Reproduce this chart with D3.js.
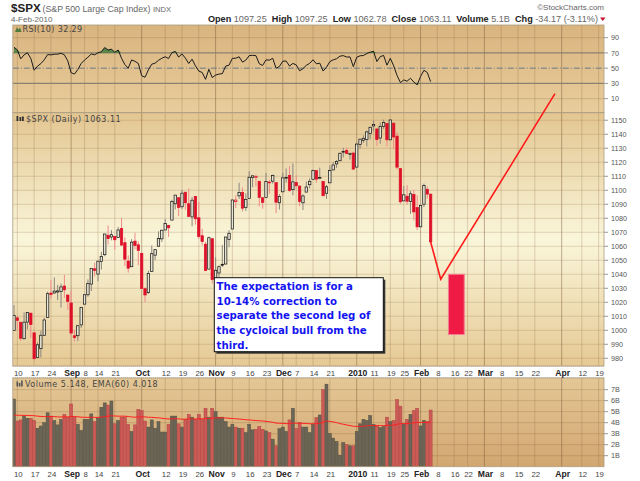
<!DOCTYPE html>
<html><head><meta charset="utf-8">
<script src="https://cdn.jsdelivr.net/npm/d3@7"></script>
<style>body{margin:0;background:#fff}svg{display:block}</style>
</head><body><svg id="c" width="640" height="481"></svg>
<script>
// ---------------- DATA ----------------
const holidays = ["2009-09-07","2009-11-26","2009-12-25","2010-01-01","2010-01-18","2010-02-15","2010-04-02"];
const prevClose = 1002.72;
const opens = [999.83,1008.89,1005.77,994.00,1005.86,1012.23,
998.18,980.62,986.88,996.41,1009.06,
1026.59,1026.63,1027.35,1027.81,1031.62,
1025.21,1019.52,996.07,996.12,1003.84,
1018.67,1025.36,1032.99,1043.92,
1040.15,1049.03,1053.99,1067.87,1066.60,
1067.14,1066.35,1072.69,1062.56,1049.48,
1045.38,1063.69,1061.02,1054.91,1029.71,
1026.87,1042.02,1053.65,1060.03,1065.28,
1071.63,1074.96,1078.68,1090.36,1094.67,
1088.22,1098.64,1090.36,1080.96,1095.62,
1080.36,1067.54,1061.51,1043.69,1065.41,
1036.18,1040.92,1047.14,1047.30,1064.95,
1072.31,1091.86,1096.04,1098.31,1087.59,
1094.13,1109.22,1109.44,1106.44,1094.66,
1094.86,1105.83,1106.49,1105.47,
1091.07,1098.89,1109.03,1110.59,1100.43,
1105.52,1103.04,1091.07,1098.69,1103.96,
1107.84,1114.11,1108.61,1106.36,1097.86,
1105.31,1114.51,1118.84,1121.08,
1127.53,1128.55,1125.53,1126.60,
1116.56,1132.66,1135.71,1136.27,1140.52,
1145.96,1143.81,1137.31,1145.68,1147.72,
1136.03,1147.95,1138.68,1115.49,
1092.40,1095.80,1091.94,1096.93,1087.61,
1073.89,1090.05,1100.67,1097.25];
const highs = [1018.00,1010.12,1005.77,1012.78,1013.14,1012.60,
998.18,991.20,999.61,1008.92,1027.59,
1035.82,1037.75,1032.47,1033.33,1039.47,
1025.21,1028.45,1000.34,1003.43,1016.48,
1026.07,1036.34,1044.14,1048.18,
1049.74,1056.04,1068.76,1074.77,1071.52,
1067.28,1073.81,1080.15,1066.29,1053.47,
1065.13,1069.62,1063.40,1054.91,1030.60,
1042.58,1060.55,1058.02,1070.67,1071.51,
1079.46,1075.30,1093.17,1096.56,1094.67,
1100.17,1098.64,1101.36,1095.21,1095.83,
1091.75,1072.48,1063.26,1066.83,1065.41,
1052.18,1046.36,1061.00,1066.65,1071.48,
1093.19,1096.42,1105.37,1101.97,1097.79,
1113.69,1110.52,1111.10,1106.44,1094.66,
1112.38,1107.56,1111.18,1105.47,
1097.24,1112.28,1115.58,1117.28,1119.13,
1110.72,1103.04,1097.04,1106.25,1108.50,
1114.76,1114.11,1116.21,1106.36,1103.74,
1117.68,1120.27,1121.58,1126.48,
1130.38,1130.38,1126.42,1127.64,
1133.87,1136.63,1139.19,1142.46,1145.39,
1149.74,1143.81,1148.40,1150.41,1147.77,
1150.45,1147.95,1141.58,1115.49,
1102.97,1103.69,1099.51,1100.22,1096.45,
1089.38,1104.73,1102.72,1097.25];
const lows = [999.83,1000.99,992.40,993.36,1000.82,994.60,
978.51,980.62,980.62,996.39,1009.06,
1022.48,1026.21,1021.57,1016.20,1023.13,
1014.62,996.28,991.97,992.25,1001.65,
1018.67,1023.97,1028.04,1038.40,
1035.00,1043.42,1052.87,1061.20,1064.27,
1057.46,1066.35,1060.39,1045.85,1041.17,
1045.38,1057.83,1046.47,1029.45,1019.95,
1025.92,1042.02,1050.10,1060.03,1063.00,
1071.63,1066.71,1078.68,1086.41,1081.53,
1086.48,1086.16,1080.77,1074.31,1075.49,
1065.23,1060.62,1042.19,1043.69,1033.38,
1029.38,1033.94,1045.15,1047.30,1059.32,
1072.31,1087.40,1093.81,1084.90,1085.33,
1094.13,1102.19,1102.70,1088.40,1086.81,
1094.86,1097.63,1104.75,1083.74,
1086.25,1098.89,1105.29,1098.74,1096.52,
1100.83,1088.61,1085.89,1098.69,1101.34,
1107.84,1105.35,1107.96,1095.88,1093.88,
1105.31,1114.51,1116.00,1121.08,
1123.51,1126.08,1121.94,1114.81,
1116.56,1129.66,1133.95,1131.32,1136.22,
1142.02,1131.77,1133.18,1143.80,1131.39,
1135.77,1129.25,1114.84,1090.18,
1092.40,1089.86,1083.11,1078.46,1071.59,
1073.89,1087.96,1093.97,1062.78];
const closes = [1010.48,1007.10,994.35,1005.81,1012.73,1004.09,
979.73,989.67,996.46,1007.37,1026.13,
1025.57,1028.00,1028.12,1030.98,1028.93,
1020.62,998.04,994.75,1003.24,1016.40,
1025.39,1033.37,1044.14,1042.73,
1049.34,1052.63,1068.76,1065.49,1068.30,
1064.66,1071.66,1060.87,1050.78,1044.38,
1062.98,1060.61,1057.08,1029.85,1025.21,
1040.46,1054.72,1057.58,1065.48,1071.49,
1076.19,1073.19,1092.02,1096.56,1087.68,
1097.91,1091.06,1081.40,1092.91,1079.60,
1066.95,1063.41,1042.63,1066.11,1036.19,
1042.88,1045.41,1046.50,1066.63,1069.30,
1093.08,1093.01,1098.51,1087.24,1093.48,
1109.30,1110.32,1109.80,1094.90,1091.38,
1106.24,1105.65,1110.63,1091.49,
1095.63,1108.86,1109.24,1099.92,1105.98,
1103.25,1091.94,1095.95,1102.35,1106.41,
1114.11,1107.93,1109.18,1096.08,1102.47,
1114.05,1118.02,1120.59,1126.48,
1127.78,1126.20,1126.42,1115.10,
1132.99,1136.52,1137.14,1141.69,1144.98,
1146.98,1136.22,1145.68,1148.46,1136.03,
1150.23,1138.04,1116.48,1091.76,
1096.78,1092.17,1097.50,1084.53,1073.87,
1089.19,1103.32,1097.28,1063.11];
// volume in billions
const volumes = [6.15,4.15,4.25,4.6,4.4,4.4,
4.2,3.5,3.7,4.0,4.9,
4.6,4.2,3.8,4.3,4.75,
4.5,5.7,4.5,3.85,3.3,
4.3,4.3,4.8,4.1,
4.4,5.4,5.8,5.6,5.97,
3.9,4.2,4.5,4.5,3.85,
3.2,3.8,5.2,5.1,4.15,
3.6,4.25,3.5,4.1,3.15,
3.15,3.85,4.6,4.6,3.9,
3.6,4.3,4.75,4.5,4.3,
4.75,4.3,5.3,4.5,5.3,
5.0,4.5,4.5,4.1,3.6,
3.85,3.6,3.5,3.5,3.1,
3.85,3.35,3.4,3.65,3.4,
3.25,3.1,2.5,1.9,
3.45,3.6,3.2,4.25,5.3,
3.45,4.0,3.6,3.6,3.1,
3.85,4.45,4.7,7.0,7.5,
3.0,2.6,2.3,1.05,
2.2,2.0,1.9,1.9,
3.2,3.9,4.3,4.2,4.65,
3.85,3.7,3.55,3.65,4.5,
4.1,4.2,6.1,5.5,
3.9,4.3,4.75,5.1,5.3,
3.7,4.2,4.1,5.15];
const rsiSeed = {gain:6, loss:2};   // Wilder averages before first bar (read from start level ~78)
const emaSeed = 4.65;               // EMA(60) level at left edge
const tickDates = ["2009-08-10","2009-08-17","2009-08-24","2009-09-01","2009-09-08","2009-09-14","2009-09-21","2009-10-01","2009-10-12","2009-10-19","2009-10-26","2009-11-02","2009-11-09","2009-11-16","2009-11-23","2009-12-01","2009-12-07","2009-12-14","2009-12-21","2010-01-04","2010-01-11","2010-01-19","2010-01-25","2010-02-01","2010-02-08","2010-02-16","2010-02-22","2010-03-01","2010-03-08","2010-03-15","2010-03-22","2010-04-01","2010-04-12","2010-04-19"];
const tickLabels = ["10","17","24","Sep","8","14","21","Oct","12","19","26","Nov","9","16","23","Dec","7","14","21","2010","11","19","25","Feb","8","16","22","Mar","8","15","22","Apr","12","19"];
const boldLabels = ["Sep","Oct","Nov","Dec","2010","Feb","Mar","Apr"];
const priceTicks = [980,990,1000,1010,1020,1030,1040,1050,1060,1070,1080,1090,1100,1110,1120,1130,1140,1150];
const rsiTicks = [90,70,50,30,10];
const volTicks = [1,2,3,4,5,6,7];
const projDates = ["2010-02-04","2010-02-09","2010-03-30"];
const projValues = [1063.11,1036.5,1169];
const targetBox = {from:"2010-02-11", to:"2010-02-19", top:1040, bottom:997};
const noteLines = ["The expectation is for a","10-14% correction to","separate the second leg of","the cycloical bull from the","third."];

// ---------------- SETUP ----------------
const svg = d3.select("#c");
const fmt = d3.timeFormat("%Y-%m-%d");
const allDates = d3.timeDay.range(new Date(2009,7,7), new Date(2010,3,22))
  .filter(d => d.getDay()%6 !== 0).map(fmt).filter(s => !holidays.includes(s));
const dates = allDates.slice(0, closes.length);
const L = 12.8, R = 604;
const x = d3.scalePoint().domain(allDates).range([14, 14 + (allDates.length-1)*3.36]);
const pRSI = [25,112.7], pMain = [112.7,366], pVol = [378,466.7];
const yR = d3.scaleLinear().domain([-8.4,106.6]).range([pRSI[1],pRSI[0]]);
const yM = d3.scaleLinear().domain([974.5,1155.4]).range([pMain[1],pMain[0]]);
const yV = d3.scaleLinear().domain([0,8.06]).range([pVol[1],pVol[0]]);
const FONT = "'Liberation Sans', Arial, sans-serif";
const VF = "'DejaVu Sans', Verdana, sans-serif";
const idx = d3.range(closes.length);
const prev = i => i === 0 ? prevClose : closes[i-1];
const isUp = i => closes[i] >= prev(i);

// indicators computed from the series above
const rsi = []; { let g = rsiSeed.gain, l = rsiSeed.loss;
  idx.forEach(i => { const ch = closes[i]-prev(i);
    g = (g*9 + Math.max(ch,0))/10; l = (l*9 + Math.max(-ch,0))/10;
    rsi.push(100 - 100/(1+g/l)); }); }
const ema = []; { let e = emaSeed, a = 2/61;
  idx.forEach(i => { e = e + a*(volumes[i]-e); ema.push(e); }); }

// defs
const defs = svg.append("defs");
function grad(id, stops){ const g = defs.append("linearGradient").attr("id",id).attr("x1",0).attr("y1",0).attr("x2",0).attr("y2",1);
  stops.forEach(s => g.append("stop").attr("offset",s[0]).attr("stop-color",s[1])); }
grad("gR", [[0,"#d9b47f"],[1,"#e8cd9c"]]);
grad("gM", [[0,"#e3c691"],[0.5,"#faf6da"],[1,"#e5c994"]]);
grad("gV", [[0,"#e4c796"],[1,"#d2a670"]]);
function clip(id, p){ defs.append("clipPath").attr("id",id).append("rect").attr("x",L).attr("y",p[0]).attr("width",R-L).attr("height",p[1]-p[0]); }
clip("cR",pRSI); clip("cM",pMain); clip("cV",pVol);

// panel backgrounds
[[pRSI,"gR"],[pMain,"gM"],[pVol,"gV"]].forEach(([p,g]) =>
  svg.append("rect").attr("x",L).attr("y",p[0]).attr("width",R-L).attr("height",p[1]-p[0]).attr("fill",`url(#${g})`));

// vertical grid
[pRSI,pMain,pVol].forEach(p => {
  svg.append("g").selectAll("line").data(tickDates).join("line")
    .attr("x1", d => x(d)).attr("x2", d => x(d)).attr("y1", p[0]).attr("y2", p[1])
    .attr("stroke", (d,i) => boldLabels.includes(tickLabels[i]) ? "rgba(120,85,50,0.45)" : "rgba(140,100,60,0.25)")
    .attr("stroke-width", 1);
});
// horizontal grids
svg.append("g").selectAll("line").data(priceTicks).join("line")
  .attr("x1",L).attr("x2",R).attr("y1",d=>yM(d)).attr("y2",d=>yM(d))
  .attr("stroke","rgba(140,100,60,0.22)");
svg.append("g").selectAll("line").data(volTicks).join("line")
  .attr("x1",L).attr("x2",R).attr("y1",d=>yV(d)).attr("y2",d=>yV(d))
  .attr("stroke","rgba(120,85,50,0.22)");
svg.append("g").selectAll("line").data(rsiTicks).join("line")
  .attr("x1",L).attr("x2",R).attr("y1",d=>yR(d)).attr("y2",d=>yR(d))
  .attr("stroke", d => d===70||d===30 ? "#8a8070" : d===50 ? "#6a7888" : "rgba(140,100,60,0.25)")
  .attr("stroke-width", d => d===70||d===30 ? 1.1 : 1)
  .attr("stroke-dasharray", d => d===50 ? "6,2,1,2" : null);

// RSI
const gR = svg.append("g").attr("clip-path","url(#cR)");
gR.append("path").datum(idx).attr("fill","#5b8548")
  .attr("d", d3.area().x(i=>x(dates[i])).y0(yR(70)).y1(i=>yR(Math.max(rsi[i],70))));
gR.append("path").datum(idx).attr("fill","#5b8548")
  .attr("d", d3.area().x(i=>x(dates[i])).y0(yR(30)).y1(i=>yR(Math.min(rsi[i],30))));
gR.append("path").datum(idx).attr("fill","none").attr("stroke","#1a1a1a").attr("stroke-width",1)
  .attr("d", d3.line().x(i=>x(dates[i])).y(i=>yR(rsi[i])));

// candles
const RED = "#de1029";
const gM = svg.append("g").attr("clip-path","url(#cM)");
gM.selectAll("line.w").data(idx).join("line").attr("class","w")
  .attr("x1",i=>x(dates[i])).attr("x2",i=>x(dates[i]))
  .attr("y1",i=>yM(highs[i])).attr("y2",i=>yM(lows[i]))
  .attr("stroke",i=> isUp(i) ? "#8a8680" : "#f08a8a").attr("stroke-width",1);
gM.selectAll("rect.b").data(idx).join("rect").attr("class","b")
  .attr("x",i=>x(dates[i])-1.2).attr("width",2.4)
  .attr("y",i=>yM(Math.max(opens[i],closes[i])))
  .attr("height",i=>Math.max(0.8, yM(Math.min(opens[i],closes[i]))-yM(Math.max(opens[i],closes[i]))))
  .attr("fill",i=> closes[i] > opens[i] ? "#e8e4d4" : (isUp(i) ? "#222" : RED))
  .attr("stroke",i=> isUp(i) ? "#111" : RED).attr("stroke-width",0.7);

// volume
const gV = svg.append("g").attr("clip-path","url(#cV)");
gV.selectAll("rect").data(idx).join("rect")
  .attr("x",i=>x(dates[i])-1.5).attr("width",3)
  .attr("y",i=>yV(volumes[i])).attr("height",i=>yV(0)-yV(volumes[i]))
  .attr("fill",i=> isUp(i) ? "#6a6558" : "#cc5a57")
  .attr("stroke",i=> isUp(i) ? "#55513f" : "#b04442").attr("stroke-width",0.5);
gV.append("path").datum(idx).attr("fill","none").attr("stroke","#ff2020").attr("stroke-width",1)
  .attr("d", d3.line().x(i=>x(dates[i])).y(i=>yV(ema[i])));

// panel borders
[pRSI,pMain,pVol].forEach(p =>
  svg.append("rect").attr("x",L).attr("y",p[0]).attr("width",R-L).attr("height",p[1]-p[0])
    .attr("fill","none").attr("stroke","#ad9d80").attr("stroke-width",0.8));
[pMain[1]+0.5, pVol[0]-0.5].forEach(yy => svg.append("line").attr("x1",L).attr("x2",R).attr("y1",yy).attr("y2",yy)
  .attr("stroke","#b8b0a0").attr("stroke-dasharray","1,1"));

// right axes
function rightAxis(ticks, scale, fmtf){
  const g = svg.append("g");
  g.selectAll("line").data(ticks).join("line").attr("x1",R).attr("x2",R+4)
    .attr("y1",d=>scale(d)).attr("y2",d=>scale(d)).attr("stroke","#999");
  g.selectAll("text").data(ticks).join("text").attr("x",R+7).attr("y",d=>scale(d)+2.6)
    .attr("font-family",FONT).attr("font-size",7.2).attr("fill","#555").text(fmtf);
}
rightAxis(rsiTicks, yR, d=>d);
rightAxis(priceTicks, yM, d=>d);
rightAxis(volTicks, yV, d=>d+"B");

// bottom axes
[375.8, 477.3].forEach(yy => {
  svg.append("g").selectAll("text").data(tickDates).join("text")
    .attr("x",d=>x(d)+1).attr("y",yy).attr("text-anchor","middle")
    .attr("font-family",FONT)
    .attr("font-size",(d,i)=> boldLabels.includes(tickLabels[i]) ? 8.6 : 7.8)
    .attr("font-weight",(d,i)=> boldLabels.includes(tickLabels[i]) ? "bold" : "normal")
    .attr("fill",(d,i)=> boldLabels.includes(tickLabels[i]) ? "#222" : "#444")
    .text((d,i)=>tickLabels[i]);
});

// header
svg.append("text").attr("x",11).attr("y",11.5).attr("font-family",FONT).attr("font-size",11.6).attr("font-weight","bold").attr("fill","#222").text("$SPX");
svg.append("text").attr("x",42.5).attr("y",11.5).attr("font-family",FONT).attr("font-size",8.8).attr("fill","#666").text("(S&P 500 Large Cap Index)");
svg.append("text").attr("x",153).attr("y",11.5).attr("font-family",FONT).attr("font-size",7.6).attr("fill","#666").text("INDX");
svg.append("text").attr("x",604).attr("y",10).attr("text-anchor","end").attr("font-family",FONT).attr("font-size",8).attr("fill","#666").text("©StockCharts.com");
svg.append("text").attr("x",11).attr("y",21.5).attr("font-family",FONT).attr("font-size",8).attr("fill","#666").text("4-Feb-2010");
const quote = [["Open ","1097.25  "],["High ","1097.25  "],["Low ","1062.78  "],["Close ","1063.11  "],["Volume ","5.1B  "],["Chg ","-34.17 (-3.11%)"]];
const qt = svg.append("text").attr("x",598).attr("y",21.5).attr("text-anchor","end").attr("font-family",FONT).attr("font-size",9.15).attr("fill","#666").style("white-space","pre");
quote.forEach(([a,b]) => { qt.append("tspan").attr("font-weight","bold").attr("fill","#222").text(a); qt.append("tspan").text(b); });
svg.append("path").attr("d","M600,17.5 L605.5,17.5 L602.75,21 Z").attr("fill","#c8102e");

// panel labels
svg.append("path").attr("d","M15,32 L16.8,27.5 L18.5,29.5 L20,27.5 L21.5,32 Z").attr("fill","#4f7a3e");
svg.append("text").attr("x",22.5).attr("y",32).attr("font-family",VF).attr("font-size",8).attr("letter-spacing",0.4).attr("fill","#444").text("RSI(10) 32.29");
[[16.5,116,5],[19.5,117,4],[22,116.5,4.5]].forEach(([xx,yy,h]) => svg.append("rect").attr("x",xx).attr("y",yy).attr("width",1.8).attr("height",h).attr("fill","#333"));
svg.append("text").attr("x",26).attr("y",122).attr("font-family",VF).attr("font-size",8).attr("letter-spacing",0.5).attr("fill","#444").text("$SPX (Daily) 1063.11");
[[16.5,381.5,5],[18.8,383,3.5],[21.1,380.5,6]].forEach(([xx,yy,h]) => svg.append("rect").attr("x",xx).attr("y",yy).attr("width",1.6).attr("height",h).attr("fill","#555"));
svg.append("text").attr("x",25).attr("y",387).attr("font-family",VF).attr("font-size",8).attr("letter-spacing",0.5).attr("fill","#444").text("Volume 5.148, EMA(60) 4.018");

// annotations
svg.append("rect").attr("x",x(targetBox.from)+1).attr("width",x(targetBox.to)-x(targetBox.from)-1)
  .attr("y",yM(targetBox.top)).attr("height",yM(targetBox.bottom)-yM(targetBox.top))
  .attr("fill","#ef1b45").attr("stroke","#f57d93").attr("stroke-width",1);
svg.append("path").datum(d3.range(projDates.length)).attr("fill","none").attr("stroke","#ff1a1a").attr("stroke-width",1.6)
  .attr("d", d3.line().x(i=>x(projDates[i])).y(i=>yM(projValues[i])));
svg.append("rect").attr("x",216.3).attr("y",279.7).attr("width",169).attr("height",74).attr("fill","#333");
svg.append("rect").attr("x",214.3).attr("y",277.7).attr("width",169).attr("height",74).attr("fill","#fff").attr("stroke","#111").attr("stroke-width",1);
svg.append("g").selectAll("text").data(noteLines).join("text")
  .attr("x",216.6).attr("y",(d,i)=>289.7+i*14.8)
  .attr("font-family",VF).attr("font-size",10.2).attr("font-weight","bold").attr("fill","#1414f0").text(d=>d);
</script></body></html>
